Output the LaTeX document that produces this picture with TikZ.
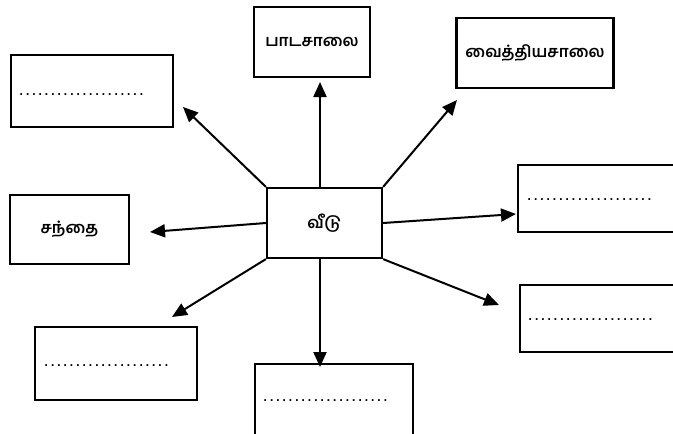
\documentclass[tikz,border=0pt]{standalone}
\usepackage{fontspec}
\usetikzlibrary{arrows.meta}
\newfontfamily\tamilfont[Script=Tamil]{Hind Madurai}
\newfontfamily\dotsfont{DejaVu Sans Mono}
\tikzset{
  box/.style={draw, line width=2.2pt, minimum width=#1, inner sep=0pt},
  box/.default=160pt,
  tlabel/.style={font=\tamilfont\bfseries\fontsize{16}{18}\selectfont},
  dline/.style={font=\dotsfont\bfseries\fontsize{10.5}{11}\selectfont, inner sep=0pt},
  link/.style={line width=2pt, -{Triangle[length=15pt,width=13pt]}}
}
\begin{document}
\begin{tikzpicture}[x=1pt,y=-1pt]
\useasboundingbox (0,0) rectangle (673,434);
\begin{scope}
\clip (0,0) rectangle (673,434);
% centre
\node[box=115pt, minimum height=70pt, tlabel] (veedu) at (324.5,223) {வீடு};
% labelled boxes
\node[box=116pt, minimum height=70pt, tlabel] (pada) at (312,42) {பாடசாலை};
\node[box=157pt, minimum height=70pt, tlabel] (vaid) at (535,53) {வைத்தியசாலை};
\node[box=119pt, minimum height=69pt, tlabel] (santhai) at (69.5,229.5) {சந்தை};
% blank boxes
\node[box=162pt, minimum height=72pt] (btl) at (92,91) {};
\node[box=162pt, minimum height=67pt] (br1) at (599,198.5) {};
\node[box=162pt, minimum height=67pt] (br2) at (601,318.5) {};
\node[box=162pt, minimum height=73pt] (bbl) at (116,363.5) {};
\node[box=158pt, minimum height=72pt] (bb) at (334,400) {};
% dotted answer lines
\node[dline, anchor=west] (dtl) at (18,94.5) {....................};
\node[dline, anchor=west] (dr1) at (526,199.5) {....................};
\node[dline, anchor=west] (dr2) at (527,319.5) {....................};
\node[dline, anchor=west] (dbl) at (43,365.5) {....................};
\node[dline, anchor=west] (db) at (262,400.5) {....................};
% arrow tips
\coordinate (tUp) at (320,82);
\coordinate (tUR) at (457,100);
\coordinate (tUL) at (183,107);
\coordinate (tL) at (150,232);
\coordinate (tR) at (516,214);
\coordinate (tDR) at (499,305);
\coordinate (tD) at (320,367);
\coordinate (tDL) at (172,317);
% arrows
\draw[link] (veedu.north -| tUp) -- (tUp);
\draw[link] (veedu.north east) -- (tUR);
\draw[link] (veedu.north west) -- (tUL);
\draw[link] (veedu.west) -- (tL);
\draw[link] (veedu.east) -- (tR);
\draw[link] (veedu.south east) -- (tDR);
\draw[link] (veedu.south -| tD) -- (tD);
\draw[link] (veedu.south west) -- (tDL);
\end{scope}
\end{tikzpicture}
\end{document}
